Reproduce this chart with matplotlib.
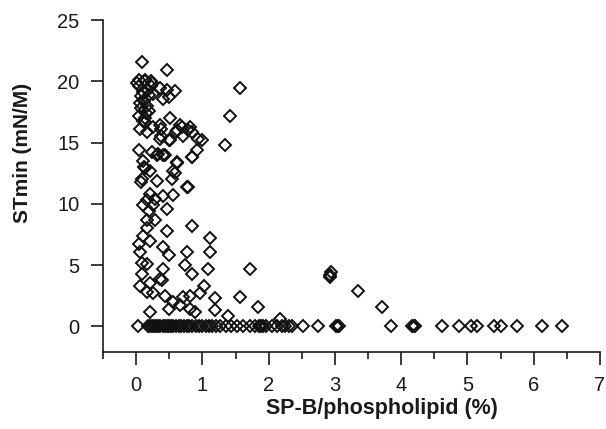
import numpy as np
import matplotlib
matplotlib.use("Agg")
import matplotlib.pyplot as plt

# SP-B/phospholipid (%) vs STmin (mN/M), points off the zero line
sp_b = [0.09, 0.46, 1.57, 1.42, 1.34, 0.99, 0.92, 0.84, 0.84, 0.69, 0.71, 0.60,
        0.51, 0.50, 0.37, 0.37, 0.44, 0.61, 0.33, 0.46, 0.49, 0.36, 0.23, 0.04,
        0.01, 0.14, 0.24, 0.11, 0.26, 0.41, 0.06, 0.19, 0.04, 0.14, 0.66, 0.81,
        0.36, 0.26, 0.06, 0.16, 0.36, 0.51, 0.61, 0.79, 0.94, 0.04, 0.24, 0.31,
        0.41, 0.84, 0.61, 0.11, 0.14, 0.21, 0.56, 0.54, 0.09, 0.31, 0.76, 0.21,
        0.29, 0.16, 0.41, 0.56, 0.11, 0.26, 0.46, 0.16, 0.29, 0.46, 0.84, 0.11,
        0.21, 0.04, 0.41, 0.49, 0.76, 0.06, 0.09, 0.16, 0.41, 0.74, 0.09, 0.36,
        0.84, 0.06, 0.21, 0.39, 0.16, 0.26, 0.44, 0.56, 0.71, 0.81, 0.66, 0.81,
        0.49, 0.21, 1.12, 1.12, 1.09, 1.72, 1.02, 0.97, 1.19, 1.57, 0.89, 1.19,
        1.84, 1.39, 2.17, 2.94, 2.92, 2.93, 3.35, 3.71, 0.78, 0.59, 0.08, 0.12,
        0.18, 0.07, 0.13, 0.20, 0.10, 0.15, 0.05, 0.22, 0.17, 0.12, 0.08, 0.19,
        0.59, 0.17, 0.14]
st_min = [21.6, 20.9, 19.5, 17.2, 14.8, 15.2, 14.4, 13.8, 15.9, 16.3, 15.5, 15.9,
          17.0, 15.2, 15.5, 16.1, 14.0, 13.3, 14.1, 19.3, 18.7, 19.5, 20.0, 20.1,
          19.9, 20.1, 19.9, 19.1, 19.0, 18.6, 18.2, 17.6, 17.2, 16.7, 16.4, 16.3,
          16.4, 16.3, 16.1, 15.9, 15.3, 15.2, 16.0, 16.0, 15.3, 14.4, 14.2, 14.0,
          14.0, 13.8, 13.4, 13.5, 12.9, 12.7, 12.7, 12.0, 12.0, 11.9, 11.4, 10.8,
          10.4, 10.3, 10.6, 10.7, 9.9, 9.9, 9.6, 8.7, 8.7, 7.8, 8.2, 7.4,
          7.0, 6.7, 6.5, 5.8, 6.1, 6.1, 5.2, 5.1, 4.7, 5.0, 4.3, 3.9,
          4.3, 3.3, 3.5, 3.8, 2.8, 2.7, 2.5, 2.0, 2.4, 2.5, 1.7, 1.4,
          1.4, 1.2, 7.2, 6.1, 4.7, 4.7, 3.3, 2.7, 2.3, 2.4, 1.2, 1.3,
          1.6, 0.8, 0.6, 4.4, 4.0, 4.2, 2.9, 1.6, 11.4, 12.5, 18.8, 18.4,
          19.3, 17.8, 17.0, 18.9, 16.8, 17.4, 19.6, 19.6, 18.0, 13.0, 11.8, 9.4,
          19.2, 8.0, 20.0]

# points lying on STmin = 0
sp_b_zero = [0.03, 0.18, 0.21, 0.24, 0.27, 0.30, 0.33, 0.36, 0.40, 0.43, 0.46,
             0.50, 0.53, 0.56, 0.60, 0.64, 0.68, 0.72, 0.76, 0.80, 0.85, 0.90,
             0.95, 1.00, 1.05, 1.10, 1.15, 1.20, 1.27, 1.35, 1.43, 1.52, 1.62,
             1.72, 1.80, 1.85, 1.88, 1.92, 1.96, 2.05, 2.12, 2.20, 2.25, 2.30,
             2.35, 2.52, 2.74, 3.02, 3.04, 3.06, 3.84, 4.17, 4.19, 4.21, 4.62,
             4.87, 5.05, 5.15, 5.40, 5.50, 5.75, 6.13, 6.42]
st_min_zero = [0.0] * len(sp_b_zero)

x_ticks = [0, 1, 2, 3, 4, 5, 6, 7]
y_ticks = [0, 5, 10, 15, 20, 25]

plt.rcParams['font.family'] = ['Liberation Sans', 'DejaVu Sans']

fig = plt.figure(figsize=(6.06, 4.29), dpi=100)
ax = fig.add_axes([0.170, 0.1795, 0.820, 0.7735])

ax.plot(sp_b + sp_b_zero, st_min + st_min_zero, linestyle='none', marker='D',
        markersize=6.2, markerfacecolor='none', markeredgecolor='#111111',
        markeredgewidth=1.4)

ax.set_xlim(-0.5, 7)
ax.set_ylim(-2.1, 25)
ax.set_xticks(x_ticks)
ax.set_xticks(np.arange(-0.5, 7.01, 0.5), minor=True)
ax.set_yticks(y_ticks)

for s in ['top', 'right']:
    ax.spines[s].set_visible(False)
for s in ['left', 'bottom']:
    ax.spines[s].set_linewidth(1.2)
    ax.spines[s].set_color('#1a1a1a')

ax.tick_params(axis='both', which='major', direction='out', length=9, width=1.2,
               labelsize=14.5, colors='#1a1a1a', pad=8)
ax.tick_params(axis='x', which='minor', direction='out', length=5, width=1.2,
               colors='#1a1a1a')
ax.tick_params(axis='y', which='minor', left=False)

ax.set_xlabel('SP-B/phospholipid (%)', fontsize=15.5, fontweight='bold',
              color='#1a1a1a')
ax.set_ylabel('STmin (mN/M)', fontsize=15, fontweight='bold',
              color='#1a1a1a')
ax.xaxis.set_label_coords(0.561, -0.140)
ax.yaxis.set_label_coords(-0.143, 0.60)

fig.savefig('out.png', dpi=100)
